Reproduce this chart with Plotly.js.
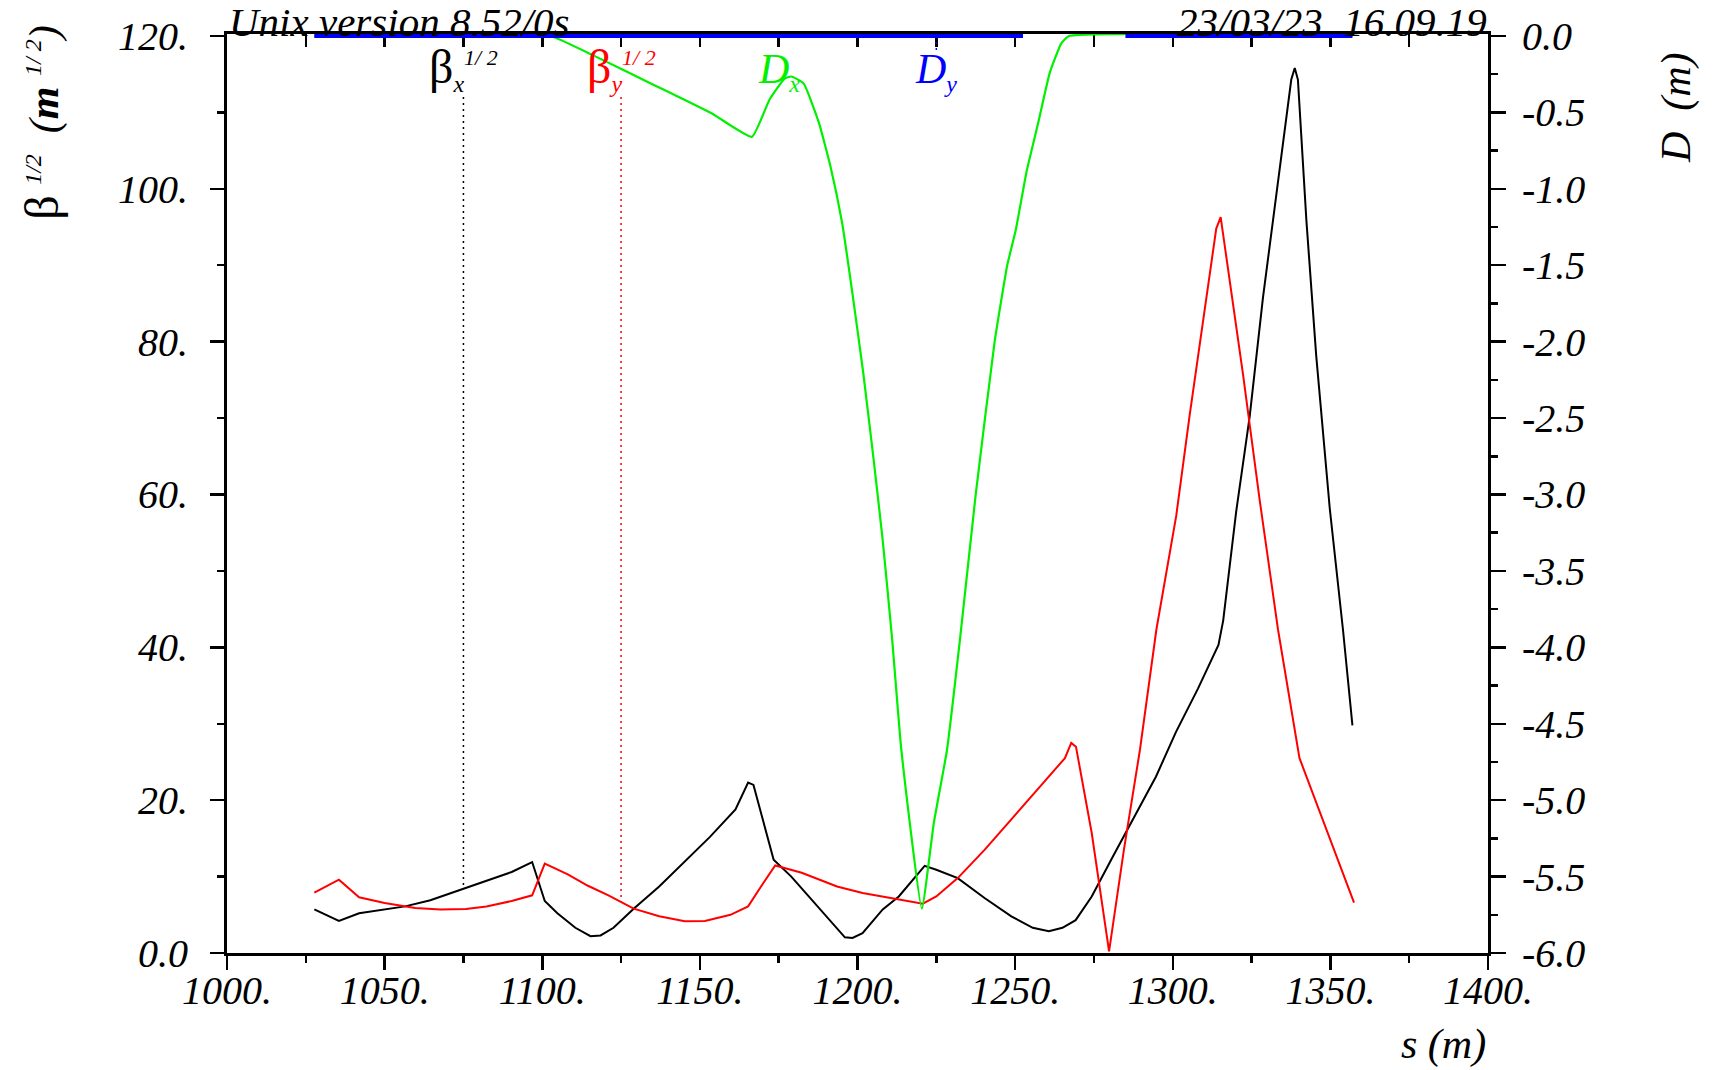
<!DOCTYPE html>
<html>
<head>
<meta charset="utf-8">
<script src="https://cdn.plot.ly/plotly-3.0.1.min.js"></script>
<style>html,body{margin:0;padding:0;background:#fff;}#chart{width:1713px;height:1070px;}</style>
</head>
<body>
<div id="chart"></div>
<script>
// ---- data ----
const betaXS = [1027.7, 1035.5, 1041.9, 1048.4, 1056.5, 1064.5, 1074.5, 1082.3, 1090.3, 1096.8, 1100.8, 1104.8, 1110.5, 1115.3, 1118.5, 1122.6, 1129, 1137.1, 1145.2, 1153.2, 1161.3, 1165.3, 1167, 1170.2, 1173.4, 1179, 1185.5, 1191.9, 1196, 1198.4, 1201.6, 1208, 1213.1, 1221.3, 1225, 1231.8, 1240.3, 1248.8, 1255.6, 1260.7, 1265, 1269.2, 1274.3, 1281.1, 1287.9, 1294.7, 1301, 1308, 1314.5, 1316, 1320.1, 1324.4, 1328.6, 1332.8, 1337.6, 1338.7, 1339.7, 1342.4, 1345.5, 1349.8, 1354, 1357];
const betaXV = [5.7, 4.2, 5.2, 5.6, 6.1, 6.9, 8.3, 9.4, 10.6, 11.9, 6.8, 5.2, 3.3, 2.2, 2.3, 3.3, 5.8, 8.7, 12.0, 15.2, 18.8, 22.3, 22.0, 17.0, 12.2, 10.0, 7.0, 3.9, 2.05, 1.97, 2.6, 5.7, 7.4, 11.4, 10.9, 9.8, 7.2, 4.8, 3.3, 2.85, 3.3, 4.3, 7.4, 12.7, 17.9, 23.1, 28.9, 34.6, 40.3, 43.5, 57.7, 70.2, 85.7, 99.3, 114.3, 115.8, 114.3, 95.8, 78.2, 58.2, 42.3, 29.8];

const betaYS = [1027.7, 1035.5, 1041.9, 1050, 1059.7, 1067.7, 1075.8, 1082.3, 1090.3, 1096.8, 1100.8, 1108.1, 1114.5, 1121, 1129, 1137.1, 1145.2, 1151.6, 1159.7, 1165.3, 1169.4, 1173.9, 1182.3, 1193.5, 1201.6, 1206.3, 1212.6, 1220.7, 1225, 1231.8, 1240.3, 1248.8, 1257.3, 1265.8, 1267.8, 1269.3, 1274.3, 1279.8, 1284.5, 1289.6, 1294.8, 1301.1, 1305.3, 1309.6, 1313.8, 1315.2, 1318, 1322.3, 1327.6, 1333.4, 1340.2, 1357.5];
const betaYV = [7.9, 9.6, 7.3, 6.55, 5.9, 5.7, 5.75, 6.1, 6.8, 7.55, 11.7, 10.3, 8.8, 7.55, 5.8, 4.8, 4.15, 4.2, 5.0, 6.1, 8.7, 11.45, 10.5, 8.7, 7.85, 7.5, 7.0, 6.45, 7.4, 9.8, 13.5, 17.5, 21.4, 25.5, 27.5, 27.0, 15.7, 0.2, 13.5, 26.6, 42.3, 57.2, 70.2, 82.7, 94.8, 96.3, 88.2, 75.7, 59.2, 42.3, 25.5, 6.6];

const dxS = [1027.7, 1100, 1104, 1117, 1135.4, 1153.7, 1166.5, 1172, 1176.8, 1179, 1182.9, 1187.8, 1191.5, 1195.1, 1198.5, 1201.8, 1205, 1208, 1211, 1213.9, 1220.4, 1224.2, 1228.4, 1232.5, 1237.5, 1243.5, 1247.5, 1250.2, 1253.7, 1257.3, 1261, 1264.6, 1267.1, 1357];
const dxV = [0, 0, -0.01, -0.135, -0.32, -0.506, -0.66, -0.42, -0.28, -0.265, -0.31, -0.57, -0.86, -1.22, -1.7, -2.2, -2.75, -3.3, -3.95, -4.67, -5.71, -5.15, -4.67, -3.95, -3.0, -2.0, -1.5, -1.27, -0.88, -0.57, -0.24, -0.05, 0, 0];

const dyS = [1027.7, 1252.5, 1252.6, 1285, 1357];
const dyV = [0, 0, null, 0, 0];

const sTickVals = [1000, 1050, 1100, 1150, 1200, 1250, 1300, 1350, 1400];
const sTickText = ['1000.', '1050.', '1100.', '1150.', '1200.', '1250.', '1300.', '1350.', '1400.'];
const betaTickVals = [0, 20, 40, 60, 80, 100, 120];
const betaTickText = ['0.0', '20.', '40.', '60.', '80.', '100.', '120.'];
const dTickVals = [-6, -5.5, -5, -4.5, -4, -3.5, -3, -2.5, -2, -1.5, -1, -0.5, 0];
const dTickText = ['-6.0', '-5.5', '-5.0', '-4.5', '-4.0', '-3.5', '-3.0', '-2.5', '-2.0', '-1.5', '-1.0', '-0.5', '0.0'];

const labelS = [1075, 1125, 1175, 1225];
const labelNames = ['βx', 'βy', 'Dx', 'Dy'];
const headerLeft = 'Unix version 8.52/0s';
const headerRight = '23/03/23  16.09.19';

// ---- drawing ----
const FONT = 'Liberation Serif, Times New Roman, serif';
const BLACK = '#000000', RED = '#ff0000', GREEN = '#00f000', BLUE = '#0000ff';

function interp(xs, ys, x) {
  for (let i = 0; i < xs.length - 1; i++) {
    if (x >= xs[i] && x <= xs[i + 1] && ys[i] != null && ys[i + 1] != null) {
      const t = (x - xs[i]) / (xs[i + 1] - xs[i]);
      return ys[i] + t * (ys[i + 1] - ys[i]);
    }
  }
  return 0;
}

const traces = [
  {x: betaXS, y: betaXV, type: 'scatter', mode: 'lines', line: {color: BLACK, width: 2}, xaxis: 'x', yaxis: 'y', hoverinfo: 'skip'},
  {x: betaYS, y: betaYV, type: 'scatter', mode: 'lines', line: {color: RED, width: 2}, xaxis: 'x', yaxis: 'y', hoverinfo: 'skip'},
  {x: dxS, y: dxV, type: 'scatter', mode: 'lines', line: {color: GREEN, width: 2.2, shape: 'spline', smoothing: 0.4}, xaxis: 'x2', yaxis: 'y2', hoverinfo: 'skip'},
  {x: dyS, y: dyV, type: 'scatter', mode: 'lines', line: {color: BLUE, width: 4}, xaxis: 'x2', yaxis: 'y2', connectgaps: false, hoverinfo: 'skip'}
];

const tickFont = {family: FONT, size: 40, style: 'italic', color: '#000'};
const axisCommon = {showgrid: false, zeroline: false, showline: true, linecolor: '#000', linewidth: 3, tickcolor: '#000', tickwidth: 2.5, tickfont: tickFont};

// top of the frame sits a hair above 120 / 0.0 so the D_y line along it is not clipped
const betaRange = [0, 120.26];
const dRange = [-6, 0.013];

const labelTop = 112; // beta units, bottom of label text
const shapes = [
  {type: 'line', xref: 'x', yref: 'y', x0: labelS[0], x1: labelS[0], y0: labelTop, y1: interp(betaXS, betaXV, labelS[0]), line: {color: BLACK, width: 1.5, dash: '2px,4px'}},
  {type: 'line', xref: 'x', yref: 'y', x0: labelS[1], x1: labelS[1], y0: labelTop, y1: interp(betaYS, betaYV, labelS[1]), line: {color: RED, width: 1.5, dash: '2px,4px'}},
  {type: 'line', xref: 'x2', yref: 'y2', x0: labelS[3], x1: labelS[3], y0: 0, y1: -0.1, line: {color: BLUE, width: 1.5, dash: '2px,4px'}}
];

const sup = '<sup><span style="font-size:22px">1/ 2</span></sup>';
const sub = (c) => '<sub><span style="font-size:24px">' + c + '</span></sub>';
const labelTexts = [
  '<span style="font-style:normal;font-size:48px">β</span>' + sub('x') + sup,
  '<span style="font-style:normal;font-size:48px">β</span>' + sub('y') + sup,
  'D' + sub('x'),
  'D' + sub('y')
];
const labelColors = [BLACK, RED, GREEN, BLUE];
const annotations = labelTexts.map((t, i) => ({
  xref: 'x', yref: 'paper', x: labelS[i], y: 1, yanchor: 'top', xanchor: 'center', yshift: i < 2 ? -4 : -10,
  text: t, showarrow: false, font: {family: FONT, size: 42, style: 'italic', color: labelColors[i]}
}));

annotations.push(
  {xref: 'paper', yref: 'paper', x: 0, y: 1, xanchor: 'left', yanchor: 'bottom', xshift: 1, yshift: -12, borderpad: 0,
   text: headerLeft, showarrow: false, font: {family: FONT, size: 41, style: 'italic', color: '#000'}},
  {xref: 'paper', yref: 'paper', x: 1, y: 1, xanchor: 'right', yanchor: 'bottom', xshift: 0, yshift: -12, borderpad: 0,
   text: headerRight.replace(/ /g, '&nbsp;'), showarrow: false, font: {family: FONT, size: 41, style: 'italic', color: '#000'}},
  {xref: 'paper', yref: 'paper', x: -0.147, y: 0.903, xanchor: 'center', yanchor: 'middle', textangle: -90,
   text: '<span style="font-style:normal;font-size:48px">β</span>&nbsp;<sup><span style="font-size:24px">1/2</span></sup>&nbsp;&nbsp;(<b>m</b>&nbsp;<sup><span style="font-size:24px">1/ 2</span></sup>)',
   showarrow: false, font: {family: FONT, size: 42, style: 'italic', color: '#000'}},
  {xref: 'paper', yref: 'paper', x: 1.1495, y: 0.92, xanchor: 'center', yanchor: 'middle', textangle: -90,
   text: 'D&nbsp;&nbsp;(m)', showarrow: false, font: {family: FONT, size: 42, style: 'italic', color: '#000'}},
  {xref: 'paper', yref: 'paper', x: 1, y: -0.1, xanchor: 'right', yanchor: 'middle',
   text: 's&nbsp;(m)', showarrow: false, font: {family: FONT, size: 42, style: 'italic', color: '#000'}}
);

const layout = {
  width: 1713, height: 1070,
  margin: {l: 227, r: 225, t: 34, b: 117, pad: 0},
  paper_bgcolor: '#fff', plot_bgcolor: '#fff',
  showlegend: false,
  xaxis: Object.assign({}, axisCommon, {
    range: [1000, 1400], tickmode: 'array', tickvals: sTickVals, ticktext: sTickText,
    ticks: 'outside', ticklen: 14, ticklabelstandoff: -14,
    minor: {tickmode: 'linear', tick0: 1000, dtick: 25, ticks: 'outside', ticklen: 7, tickwidth: 2.5, tickcolor: '#000', showgrid: false},
    anchor: 'y'
  }),
  yaxis: Object.assign({}, axisCommon, {
    range: betaRange, tickmode: 'array', tickvals: betaTickVals, ticktext: betaTickText,
    ticks: 'outside', ticklen: 14, ticklabelstandoff: 14,
    minor: {tickmode: 'linear', tick0: 0, dtick: 10, ticks: 'outside', ticklen: 7, tickwidth: 2.5, tickcolor: '#000', showgrid: false},
    anchor: 'x'
  }),
  xaxis2: Object.assign({}, axisCommon, {
    range: [1000, 1400], overlaying: 'x', side: 'top', anchor: 'y2', layer: 'below traces',
    tickmode: 'linear', tick0: 1000, dtick: 25, ticks: 'inside', ticklen: 13, showticklabels: false
  }),
  yaxis2: Object.assign({}, axisCommon, {
    range: dRange, overlaying: 'y', side: 'right', anchor: 'x2',
    tickmode: 'array', tickvals: dTickVals, ticktext: dTickText,
    ticks: 'outside', ticklen: 15, ticklabelstandoff: 8,
    minor: {tickmode: 'linear', tick0: 0, dtick: 0.25, ticks: 'outside', ticklen: 7, tickwidth: 2.5, tickcolor: '#000', showgrid: false}
  }),
  shapes: shapes,
  annotations: annotations
};

Plotly.newPlot('chart', traces, layout, {displayModeBar: false, staticPlot: true});
</script>
</body>
</html>
